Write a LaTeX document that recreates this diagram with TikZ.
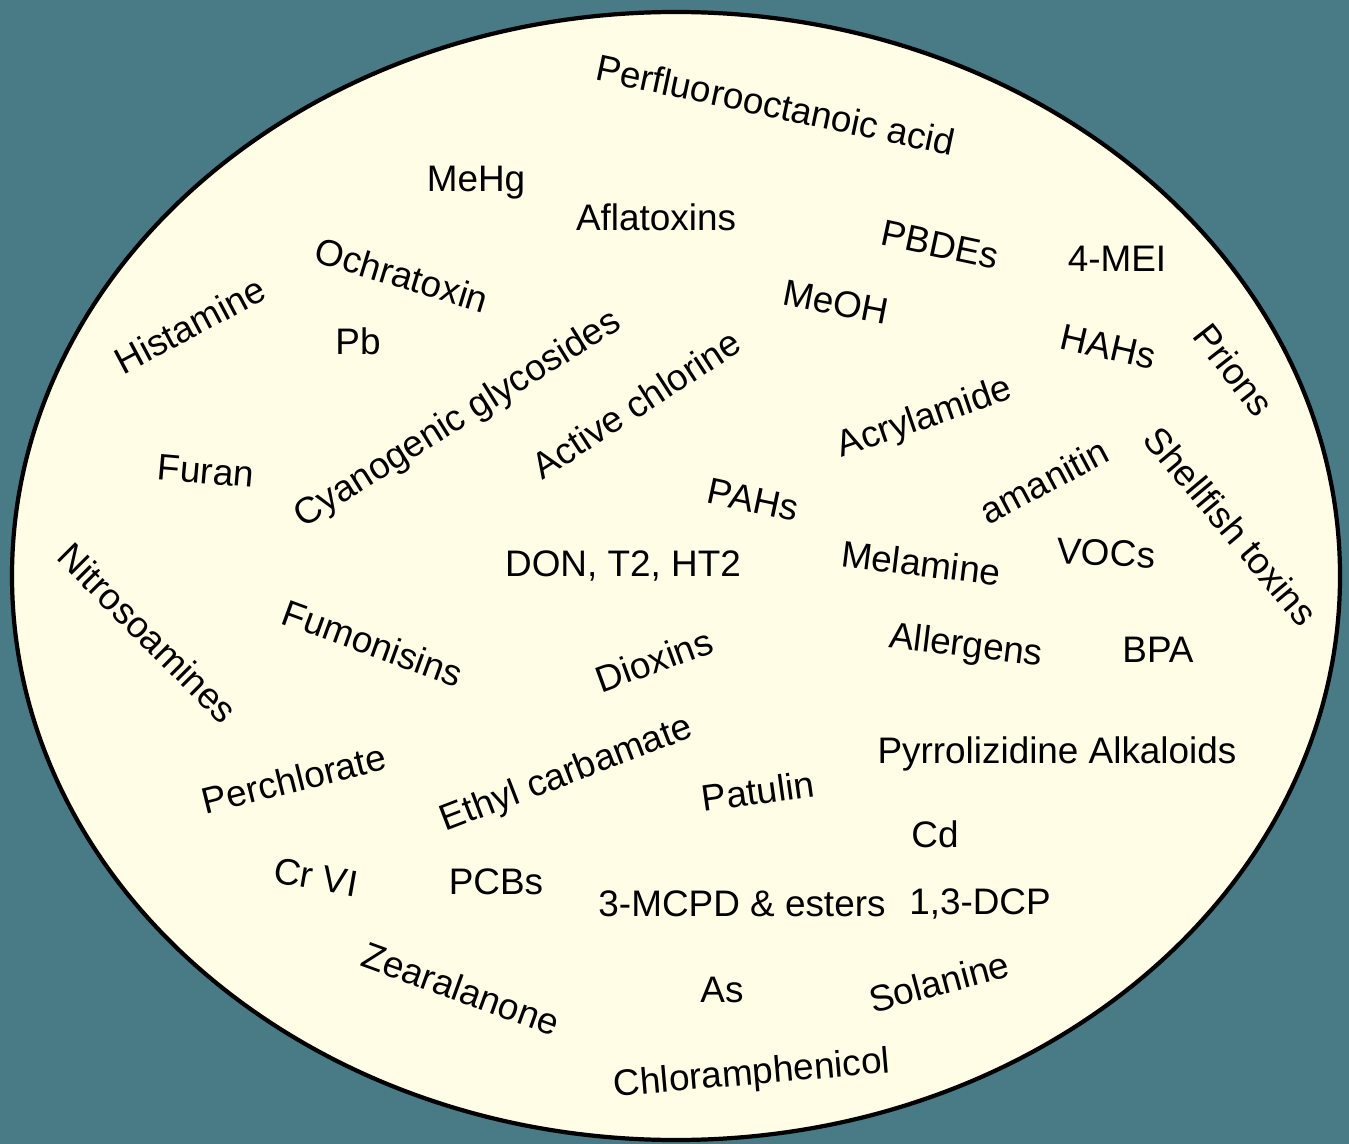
\documentclass[tikz,border=0pt]{standalone}
\usepackage{fontspec}
\setmainfont{Liberation Sans}
\usepackage{xcolor}
\usepackage{tikz}
\usetikzlibrary{positioning}

\definecolor{bgteal}{RGB}{72,123,133}
\definecolor{cream}{RGB}{255,253,229}

\begin{document}
\begin{tikzpicture}[every node/.style={font=\fontsize{10.5}{12.6}\selectfont,inner sep=0pt},
  hazard/.style={text=black}]
  % background and the cloud
  \fill[bgteal] (0,0) rectangle (13.49,-11.44);
  \useasboundingbox (0,0) rectangle (13.49,-11.44);
  \draw[line width=1.2pt,fill=cream] (6.76,-5.76) ellipse [x radius=6.64,y radius=5.64];

  % top
  \node[hazard,rotate=-12] (pfoa) at (7.76,-1.05) {Perfluorooctanoic acid};
  \node[hazard] (mehg) at (4.76,-1.83) {MeHg};
  \node[hazard] (afla) at (6.56,-2.17) {Aflatoxins};
  \node[hazard,rotate=-12] (pbde) at (9.40,-2.45) {PBDEs};
  \node[hazard] (mei) at (11.17,-2.59) {4-MEI};
  \node[hazard,rotate=-17] (ochra) at (4.02,-2.75) {Ochratoxin};
  \node[hazard,rotate=28] (hist) at (1.90,-3.25) {Histamine};
  \node[hazard] (pb) at (3.58,-3.41) {Pb};
  \node[hazard,rotate=-11] (meoh) at (8.36,-3.02) {MeOH};
  \node[hazard,rotate=-13] (hahs) at (11.08,-3.47) {HAHs};
  \node[hazard,rotate=-52] (prions) at (12.34,-3.70) {Prions};

  % middle
  \node[hazard,rotate=32] (cyan) at (4.58,-4.20) {Cyanogenic glycosides};
  \node[hazard,rotate=33] (chlor) at (6.36,-4.04) {Active chlorine};
  \node[hazard,rotate=19] (acryl) at (9.25,-4.19) {Acrylamide};
  \node[hazard,rotate=-5] (furan) at (2.06,-4.71) {Furan};
  \node[hazard,rotate=28] (amanitin) at (10.44,-4.81) {amanitin};
  \node[hazard,rotate=-50] (shell) at (12.31,-5.26) {Shellfish toxins};
  \node[hazard,rotate=-12] (pahs) at (7.53,-5.00) {PAHs};
  \node[hazard] (don) at (6.23,-5.66) {DON, T2, HT2};
  \node[hazard,rotate=-7] (melam) at (9.21,-5.63) {Melamine};
  \node[hazard,rotate=-3] (vocs) at (11.06,-5.53) {VOCs};
  \node[hazard,rotate=-45] (nitro) at (1.48,-6.33) {Nitrosoamines};
  \node[hazard,rotate=-20] (fumon) at (3.73,-6.43) {Fumonisins};
  \node[hazard,rotate=20] (diox) at (6.54,-6.60) {Dioxins};
  \node[hazard,rotate=-7] (allerg) at (9.66,-6.47) {Allergens};
  \node[hazard] (bpa) at (11.58,-6.50) {BPA};

  % bottom
  \node[hazard,rotate=14] (perchl) at (2.94,-7.79) {Perchlorate};
  \node[hazard,rotate=21] (ethyl) at (5.67,-7.75) {Ethyl carbamate};
  \node[hazard] (pyrro) at (10.57,-7.54) {Pyrrolizidine Alkaloids};
  \node[hazard,rotate=8] (patulin) at (7.58,-7.91) {Patulin};
  \node[hazard] (cd) at (9.35,-8.34) {Cd};
  \node[hazard,rotate=-10] (crvi) at (3.16,-8.77) {Cr VI};
  \node[hazard] (pcbs) at (4.96,-8.82) {PCBs};
  \node[hazard] (mcpd) at (7.42,-9.04) {3-MCPD \& esters};
  \node[hazard] (dcp) at (9.80,-9.04) {1,3-DCP};
  \node[hazard,rotate=-20] (zear) at (4.61,-9.89) {Zearalanone};
  \node[hazard] (as) at (7.22,-9.90) {As};
  \node[hazard,rotate=15] (solan) at (9.39,-9.82) {Solanine};
  \node[hazard,rotate=5] (chloram) at (7.52,-10.75) {Chloramphenicol};
\end{tikzpicture}
\end{document}
